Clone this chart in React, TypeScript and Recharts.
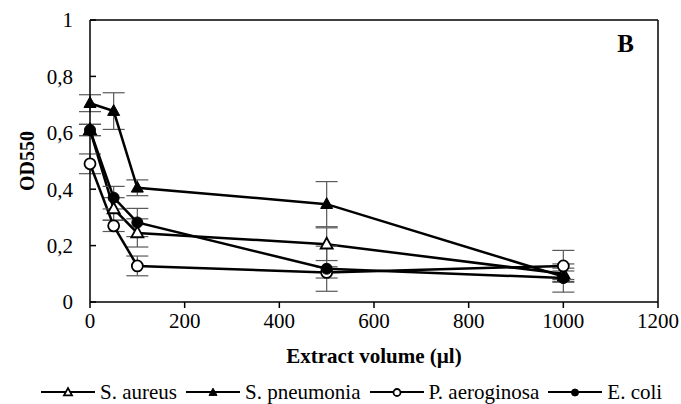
import React from "react";
import {
  LineChart,
  Line,
  XAxis,
  YAxis,
  ErrorBar,
  ReferenceLine,
  Legend,
  Label,
} from "recharts";

if (typeof document !== "undefined") {
  document.body.style.margin = "0";
}

const FONT = '"Liberation Serif", "Times New Roman", Times, serif';

// Extract volume (µl)
const xValues = [0, 50, 100, 500, 1000];
const xTicks = [0, 200, 400, 600, 800, 1000, 1200];
const yTicks = [0, 0.2, 0.4, 0.6, 0.8, 1];

// OD550 per series
const aureus = [0.61, 0.33, 0.245, 0.205, 0.1];
const aureusErr = [0.02, 0.04, 0.05, 0.058, 0.02];
const pneumonia = [0.705, 0.677, 0.405, 0.347, 0.09];
const pneumoniaErr = [0.03, 0.065, 0.028, 0.08, 0.02];
const aeruginosa = [0.49, 0.27, 0.128, 0.105, 0.128];
const aeruginosaErr = [0.035, 0.02, 0.035, 0.02, 0.055];
const coli = [0.61, 0.37, 0.282, 0.118, 0.085];
const coliErr = [0.02, 0.04, 0.05, 0.08, 0.05];

const seriesNames = ["S. aureus", "S. pneumonia", "P. aeroginosa", "E. coli"];

const data = xValues.map((x, i) => ({
  x,
  aureus: aureus[i],
  aureusErr: aureusErr[i],
  pneumonia: pneumonia[i],
  pneumoniaErr: pneumoniaErr[i],
  aeruginosa: aeruginosa[i],
  aeruginosaErr: aeruginosaErr[i],
  coli: coli[i],
  coliErr: coliErr[i],
}));

type Shape = "tri" | "circle";

const marker = (
  shape: Shape,
  filled: boolean,
  cx: number,
  cy: number,
  size: number,
  key?: string | number
) => {
  const fill = filled ? "#000" : "#fff";
  if (shape === "tri") {
    const h = size * 0.9;
    const w = size;
    const pts = `${cx},${cy - h * 0.6} ${cx - w / 2},${cy + h * 0.4} ${cx + w / 2},${cy + h * 0.4}`;
    return (
      <polygon key={key} points={pts} fill={fill} stroke="#000" strokeWidth={filled ? 1 : 1.8} strokeLinejoin="miter" />
    );
  }
  return <circle key={key} cx={cx} cy={cy} r={size / 2} fill={fill} stroke="#000" strokeWidth={filled ? 1 : 1.8} />;
};

const makeDot = (shape: Shape, filled: boolean) => (props: any) => {
  const { cx, cy, index } = props;
  if (cx == null || cy == null) return <g key={index} />;
  return marker(shape, filled, cx, cy, shape === "tri" ? 12 : 11, index);
};

const Y_TICK_MARGIN = 17;

const YTick = (props: any) => {
  const { x, y, payload } = props;
  const label = String(payload.value).replace(".", ",");
  const axisX = x + Y_TICK_MARGIN;
  return (
    <g>
      <text x={x} y={y} dy="0.35em" textAnchor="end" fontSize={21} fontFamily={FONT} fill="#000">
        {label}
      </text>
      <line x1={axisX} x2={axisX + 6} y1={y} y2={y} stroke="#000" strokeWidth={1.5} />
    </g>
  );
};

const legendItems: { name: string; shape: Shape; filled: boolean }[] = [
  { name: seriesNames[0], shape: "tri", filled: false },
  { name: seriesNames[1], shape: "tri", filled: true },
  { name: seriesNames[2], shape: "circle", filled: false },
  { name: seriesNames[3], shape: "circle", filled: true },
];

const renderLegend = () => (
  <div
    style={{
      display: "flex",
      flexWrap: "nowrap",
      justifyContent: "flex-start",
      alignItems: "center",
      height: 22,
      paddingLeft: 11,
      width: 700,
      fontFamily: FONT,
      fontSize: 21,
      color: "#000",
      whiteSpace: "nowrap",
      overflow: "visible",
    }}
  >
    {legendItems.map((it, i) => (
      <div
        key={it.name}
        style={{ display: "flex", flexShrink: 0, alignItems: "center", marginLeft: i === 0 ? 0 : 9 }}
      >
        <svg width={54} height={22} style={{ display: "block", flexShrink: 0 }}>
          <line x1={0} x2={54} y1={11} y2={11} stroke="#000" strokeWidth={2} />
          {marker(it.shape, it.filled, 27, 11.5, it.shape === "tri" ? 8 : 7)}
        </svg>
        <span style={{ marginLeft: 5, lineHeight: "22px", whiteSpace: "nowrap", flexShrink: 0 }}>{it.name}</span>
      </div>
    ))}
  </div>
);

const lineProps = {
  type: "linear" as const,
  stroke: "#000",
  strokeWidth: 2.5,
  isAnimationActive: false,
  activeDot: false as const,
};

const errProps = {
  width: 11,
  stroke: "#595959",
  strokeWidth: 1.2,
  direction: "y" as const,
  isAnimationActive: false,
};

export default function App() {
  return (
    <div style={{ width: 681, height: 404, background: "#fff", overflow: "hidden" }}>
      <LineChart width={681} height={404} data={data} margin={{ top: 20, right: 23, left: 30, bottom: 1 }}>
        <XAxis
          dataKey="x"
          type="number"
          domain={[0, 1200]}
          ticks={xTicks}
          height={79}
          axisLine={{ stroke: "#000", strokeWidth: 1.5 }}
          tickLine={{ stroke: "#000", strokeWidth: 1.5 }}
          tickSize={6}
          tickMargin={5}
          tick={{ fontSize: 21, fontFamily: FONT, fill: "#000" }}
          interval={0}
        >
          <Label
            content={(p: any) => {
              const vb = p.viewBox || {};
              return (
                <text
                  x={vb.x + vb.width / 2}
                  y={vb.y + 61}
                  textAnchor="middle"
                  fontSize={21}
                  fontWeight="bold"
                  fontFamily={FONT}
                  fill="#000"
                >
                  Extract volume (µl)
                </text>
              );
            }}
          />
        </XAxis>
        <YAxis
          type="number"
          domain={[0, 1]}
          ticks={yTicks}
          width={60}
          axisLine={{ stroke: "#000", strokeWidth: 1.5 }}
          tickLine={false}
          tickSize={0}
          tickMargin={Y_TICK_MARGIN}
          tick={<YTick />}
          interval={0}
        >
          <Label
            content={(p: any) => {
              const vb = p.viewBox || {};
              const cx = 27;
              const cy = vb.y + vb.height / 2;
              return (
                <text
                  x={cx}
                  y={cy}
                  dy="0.35em"
                  textAnchor="middle"
                  transform={`rotate(-90 ${cx} ${cy})`}
                  fontSize={20}
                  fontWeight="bold"
                  fontFamily={FONT}
                  fill="#000"
                >
                  OD550
                </text>
              );
            }}
          />
        </YAxis>
        <ReferenceLine x={1200} stroke="#000" strokeWidth={1.5} />
        <ReferenceLine y={1} stroke="#000" strokeWidth={1.5}>
          <Label
            content={(p: any) => {
              const vb = p.viewBox || {};
              return (
                <text
                  x={vb.x + vb.width - 24}
                  y={vb.y + 32}
                  textAnchor="end"
                  fontSize={25}
                  fontWeight="bold"
                  fontFamily={FONT}
                  fill="#000"
                >
                  B
                </text>
              );
            }}
          />
        </ReferenceLine>
        <Legend verticalAlign="bottom" align="left" height={22} content={renderLegend} />
        <Line {...lineProps} dataKey="aureus" name={seriesNames[0]} dot={makeDot("tri", false)}>
          <ErrorBar {...errProps} dataKey="aureusErr" />
        </Line>
        <Line {...lineProps} dataKey="pneumonia" name={seriesNames[1]} dot={makeDot("tri", true)}>
          <ErrorBar {...errProps} dataKey="pneumoniaErr" />
        </Line>
        <Line {...lineProps} dataKey="aeruginosa" name={seriesNames[2]} dot={makeDot("circle", false)}>
          <ErrorBar {...errProps} dataKey="aeruginosaErr" />
        </Line>
        <Line {...lineProps} dataKey="coli" name={seriesNames[3]} dot={makeDot("circle", true)}>
          <ErrorBar {...errProps} dataKey="coliErr" />
        </Line>
      </LineChart>
    </div>
  );
}
